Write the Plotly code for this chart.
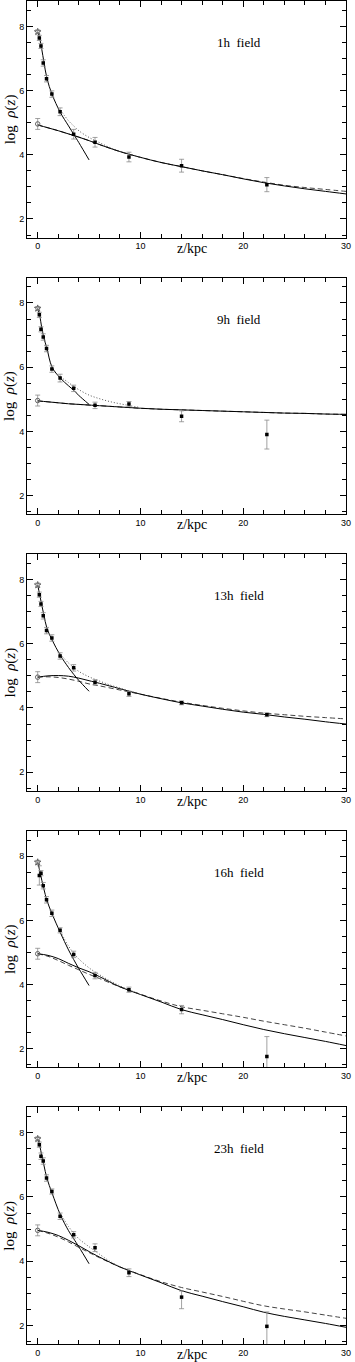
import plotly.graph_objects as go
from plotly.subplots import make_subplots

# --- data ---
FIELDS = ["1h  field", "9h  field", "13h  field", "16h  field", "23h  field"]

# observed points (filled squares)
Z_PTS = [0.16, 0.32, 0.54, 0.86, 1.38, 2.18, 3.5, 5.58, 8.88, 14.0, 22.3]
PTS = [
    [7.64, 7.39, 6.86, 6.37, 5.89, 5.34, 4.64, 4.39, 3.93, 3.66, 3.07],
    [7.63, 7.18, 6.94, 6.58, 5.94, 5.66, 5.34, 4.81, 4.85, 4.47, 3.90],
    [7.53, 7.24, 6.87, 6.41, 6.18, 5.62, 5.25, 4.80, 4.44, 4.16, 3.79],
    [7.40, 7.47, 7.08, 6.64, 6.22, 5.69, 4.94, 4.28, 3.84, 3.22, 1.76],
    [7.63, 7.27, 7.12, 6.59, 6.17, 5.40, 4.82, 4.42, 3.64, 2.88, 1.97],
]
PTS_ERR_UP = [
    [0.08, 0.08, 0.10, 0.10, 0.10, 0.12, 0.15, 0.15, 0.15, 0.20, 0.22],
    [0.08, 0.08, 0.10, 0.10, 0.10, 0.12, 0.10, 0.10, 0.08, 0.17, 0.45],
    [0.08, 0.08, 0.10, 0.10, 0.10, 0.10, 0.10, 0.08, 0.08, 0.06, 0.06],
    [0.30, 0.08, 0.10, 0.10, 0.10, 0.08, 0.10, 0.10, 0.08, 0.13, 0.62],
    [0.08, 0.10, 0.10, 0.10, 0.08, 0.10, 0.10, 0.12, 0.12, 0.19, 0.45],
]
PTS_ERR_DN = [
    [0.08, 0.08, 0.10, 0.10, 0.10, 0.12, 0.15, 0.15, 0.15, 0.20, 0.22],
    [0.08, 0.08, 0.10, 0.10, 0.10, 0.12, 0.10, 0.10, 0.08, 0.17, 0.45],
    [0.08, 0.08, 0.10, 0.10, 0.10, 0.10, 0.10, 0.08, 0.08, 0.06, 0.06],
    [0.30, 0.08, 0.10, 0.10, 0.10, 0.08, 0.10, 0.10, 0.08, 0.13, 0.62],
    [0.08, 0.10, 0.10, 0.10, 0.08, 0.10, 0.10, 0.12, 0.12, 0.36, 0.60],
]

# central values at z = 0 (open symbols)
CENTRE_HI = [7.83, 7.83, 7.83, 7.81, 7.81]
CENTRE_HI_ERR = [0.06, 0.06, 0.06, 0.06, 0.06]
CENTRE_LO = [4.96, 4.96, 4.96, 4.96, 4.96]
CENTRE_LO_ERR = [0.17, 0.17, 0.17, 0.17, 0.17]

# inner (steep) fit
Z_INNER = [0, 0.2, 0.4, 0.6, 0.9, 1.4, 2.2, 3.0, 3.5, 4.0, 5.0]
INNER = [
    [7.83, 7.62, 7.28, 6.90, 6.38, 5.88, 5.32, 4.90, 4.64, 4.38, 3.84],
    [7.83, 7.60, 7.22, 6.92, 6.58, 6.00, 5.66, 5.42, 5.28, 5.12, 4.84],
    [7.83, 7.52, 7.20, 6.90, 6.48, 6.12, 5.64, 5.26, 5.05, 4.86, 4.52],
    [7.81, 7.55, 7.25, 6.98, 6.62, 6.20, 5.62, 5.08, 4.78, 4.50, 3.97],
    [7.81, 7.60, 7.28, 7.00, 6.58, 6.12, 5.45, 4.95, 4.70, 4.45, 3.92],
]

# outer halo fits
Z_OUTER = [0, 1, 2, 3, 4, 5, 6, 8, 10, 12, 14, 16, 18, 20, 22, 24, 26, 28, 30]
OUTER_SOLID = [
    [4.93, 4.84, 4.75, 4.65, 4.55, 4.44, 4.32, 4.10, 3.92, 3.76, 3.63, 3.50, 3.38, 3.25, 3.13, 3.03, 2.94, 2.86, 2.78],
    [4.95, 4.92, 4.89, 4.86, 4.84, 4.82, 4.80, 4.76, 4.72, 4.69, 4.67, 4.65, 4.63, 4.61, 4.59, 4.57, 4.56, 4.54, 4.53],
    [4.96, 5.00, 5.01, 4.99, 4.93, 4.85, 4.77, 4.60, 4.43, 4.29, 4.16, 4.06, 3.96, 3.87, 3.80, 3.72, 3.65, 3.57, 3.50],
    [4.96, 4.91, 4.81, 4.66, 4.52, 4.40, 4.25, 3.93, 3.69, 3.46, 3.22, 3.06, 2.91, 2.75, 2.60, 2.47, 2.35, 2.23, 2.10],
    [4.96, 4.90, 4.80, 4.65, 4.48, 4.30, 4.13, 3.82, 3.57, 3.33, 3.08, 2.91, 2.74, 2.58, 2.41, 2.28, 2.17, 2.06, 1.94],
]
OUTER_DASH = [
    [4.93, 4.84, 4.75, 4.65, 4.55, 4.44, 4.32, 4.10, 3.92, 3.76, 3.63, 3.50, 3.38, 3.26, 3.15, 3.05, 2.98, 2.92, 2.86],
    [4.95, 4.92, 4.89, 4.86, 4.84, 4.82, 4.80, 4.76, 4.72, 4.69, 4.67, 4.65, 4.63, 4.61, 4.59, 4.57, 4.56, 4.54, 4.53],
    [4.96, 4.97, 4.95, 4.90, 4.83, 4.75, 4.69, 4.56, 4.43, 4.30, 4.18, 4.08, 3.99, 3.91, 3.84, 3.79, 3.74, 3.70, 3.66],
    [4.96, 4.88, 4.75, 4.60, 4.46, 4.32, 4.19, 3.93, 3.70, 3.49, 3.31, 3.20, 3.09, 2.98, 2.86, 2.75, 2.64, 2.52, 2.40],
    [4.96, 4.87, 4.75, 4.60, 4.43, 4.27, 4.11, 3.82, 3.58, 3.36, 3.18, 3.04, 2.90, 2.75, 2.61, 2.51, 2.42, 2.32, 2.22],
]

# combined model (dotted)
Z_SUM = [2.2, 3, 3.5, 4, 5, 6, 7, 8, 9, 10]
SUM = [
    [5.40, 5.06, 4.90, 4.75, 4.54, 4.38, 4.23, 4.11, 4.01, 3.92],
    [5.70, 5.52, 5.40, 5.30, 5.13, 5.02, 4.93, 4.86, 4.80, 4.74],
    [5.68, 5.40, 5.27, 5.14, 4.97, 4.84, 4.72, 4.62, 4.52, 4.44],
    [5.66, 5.20, 4.98, 4.80, 4.52, 4.31, 4.12, 3.96, 3.82, 3.70],
    [5.50, 5.08, 4.88, 4.70, 4.45, 4.22, 4.00, 3.83, 3.69, 3.57],
]

W, H = 355, 1362
M_T, M_B, M_L, M_R = 1, 18, 27, 9
PANEL_H, PANEL_STEP = 236.6, 276.6
PLOT_H = H - M_T - M_B

fig = make_subplots(rows=5, cols=1)

ERR = dict(type="data", color="#8a8a8a", thickness=0.8, width=2.5)
SERIF = "Liberation Serif, DejaVu Serif, serif"

for i in range(5):
    r = i + 1
    fig.add_trace(go.Scatter(x=Z_OUTER, y=OUTER_DASH[i], mode="lines", line=dict(color="#444", width=1, dash="5px,3px", shape="spline")), row=r, col=1)
    fig.add_trace(go.Scatter(x=Z_OUTER, y=OUTER_SOLID[i], mode="lines", line=dict(color="black", width=1, shape="spline")), row=r, col=1)
    fig.add_trace(go.Scatter(x=Z_SUM, y=SUM[i], mode="lines", line=dict(color="#555", width=1, dash="1px,2px", shape="spline")), row=r, col=1)
    fig.add_trace(go.Scatter(x=Z_INNER, y=INNER[i], mode="lines", line=dict(color="black", width=1, shape="spline")), row=r, col=1)
    fig.add_trace(go.Scatter(x=Z_PTS, y=PTS[i], mode="markers",
                             marker=dict(symbol="square", size=3.5, color="black"),
                             error_y=dict(array=PTS_ERR_UP[i], arrayminus=PTS_ERR_DN[i], **ERR)), row=r, col=1)
    fig.add_trace(go.Scatter(x=[0], y=[CENTRE_HI[i]], mode="markers",
                             marker=dict(symbol="star-open", size=5, color="#666", line=dict(width=1)),
                             error_y=dict(array=[CENTRE_HI_ERR[i]], **ERR)), row=r, col=1)
    fig.add_trace(go.Scatter(x=[0], y=[CENTRE_LO[i]], mode="markers",
                             marker=dict(symbol="circle-open", size=4.5, color="#666", line=dict(width=1)),
                             error_y=dict(array=[CENTRE_LO_ERR[i]], **ERR)), row=r, col=1)

    top = i * PANEL_STEP
    bot = top + PANEL_H
    dom = [1 - bot / PLOT_H, min(1, 1 - top / PLOT_H)]
    fig.update_yaxes(domain=dom, row=r, col=1)

    sfx = "" if i == 0 else str(r)
    fig.add_annotation(text=FIELDS[i], xref="x" + sfx, yref="y" + sfx, x=19.6, y=7.5,
                       showarrow=False, font=dict(family=SERIF, size=13, color="black"))
    fig.add_annotation(text="z/kpc", xref="x" + sfx, yref="y" + sfx + " domain", x=15, y=0,
                       yanchor="top", yshift=-1, showarrow=False,
                       font=dict(family=SERIF, size=14, color="black"))
    fig.add_annotation(text="log  <i>ρ</i>(<i>z</i>)", xref="paper", yref="y" + sfx + " domain",
                       x=0, y=0.5, xanchor="center", yanchor="middle", xshift=-17, textangle=-90,
                       showarrow=False, font=dict(family=SERIF, size=15, color="black"))

fig.update_xaxes(range=[-1.04, 30], tick0=0, dtick=10, ticks="inside", ticklen=6,
                 minor=dict(dtick=2, ticks="inside", ticklen=4, tickcolor="black"),
                 showline=True, linecolor="black", linewidth=1, mirror="allticks",
                 showgrid=False, zeroline=False, tickcolor="black", automargin=False,
                 tickfont=dict(family="Liberation Sans, Arial", size=9, color="black"))
fig.update_yaxes(range=[1.42, 8.79], tick0=0, dtick=2, ticks="inside", ticklen=6,
                 minor=dict(dtick=0.5, ticks="inside", ticklen=4, tickcolor="black"),
                 showline=True, linecolor="black", linewidth=1, mirror="allticks",
                 showgrid=False, zeroline=False, tickcolor="black", automargin=False,
                 tickfont=dict(family="Liberation Sans, Arial", size=9, color="black"))

fig.update_layout(width=W, height=H, showlegend=False, plot_bgcolor="white", paper_bgcolor="white",
                  margin=dict(t=M_T, b=M_B, l=M_L, r=M_R))

# page body has a default 8px margin; drop it so the figure sits at the window corner
fig.write_html("out.html", config={"displayModeBar": False},
               post_script="document.body.style.margin='0';")
